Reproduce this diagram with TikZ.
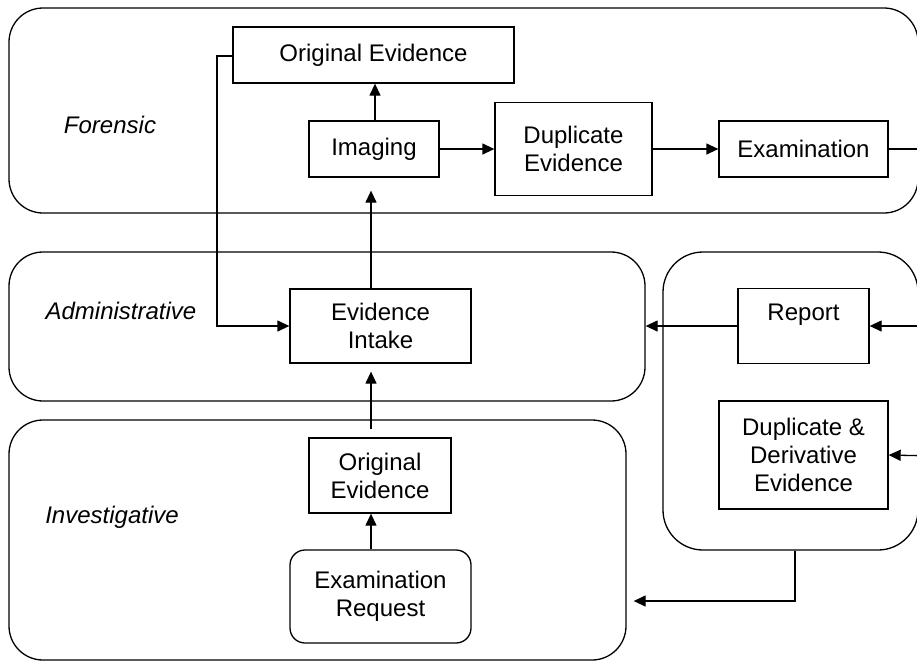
\documentclass[tikz,border=0pt]{standalone}
\usepackage{fontspec}
\setmainfont{Liberation Sans}
\usetikzlibrary{arrows.meta}
\begin{document}
\begin{tikzpicture}[x=1pt,y=-1pt,
  every node/.style={font=\fontsize{24}{28}\selectfont, align=center, inner sep=0pt},
  lane/.style={draw, line width=1.3pt, rounded corners=34pt},
  box/.style={draw, line width=1.3pt},
  lanelabel/.style={font=\fontsize{24}{28}\selectfont\itshape},
  conn/.style={line width=1.3pt},
  arr/.style={line width=1.3pt, -{Triangle[length=12pt,width=11pt]}}]
\useasboundingbox (0,0) rectangle (917,662);
\clip (0,0) rectangle (917,662);
% lanes
\node[lane, minimum width=909pt, minimum height=205pt] (forensic) at (463.5,110.5) {};
\node[lane, minimum width=636pt, minimum height=149pt] (admin) at (327,326.5) {};
\node[lane, minimum width=617pt, minimum height=240pt] (invest) at (317.5,540) {};
\node[lane, rounded corners=40pt, minimum width=255pt, minimum height=298pt] (rightc) at (790.5,401) {};
\node[lanelabel] (lf) at (110,125) {Forensic};
\node[lanelabel] (la) at (121,311) {Administrative};
\node[lanelabel] (li) at (112,517) {Investigative};
% boxes
\node[box, minimum width=281pt, minimum height=56pt] (origF) at (373.5,55) {Original Evidence};
\node[box, minimum width=130pt, minimum height=56pt] (imaging) at (374,149) {Imaging};
\node[box, minimum width=157pt, minimum height=93pt] (dupF) at (573.5,149) {Duplicate\\Evidence};
\node[box, minimum width=169pt, minimum height=56pt] (exam) at (803.5,149) {Examination};
\node[box, minimum width=181pt, minimum height=74pt] (intake) at (380.5,326) {Evidence\\Intake};
\node[box, minimum width=131pt, minimum height=75pt, text height=17pt, text depth=28pt] (report) at (803.5,326) {Report};
\node[box, minimum width=169pt, minimum height=108pt] (dupD) at (803.5,455) {Duplicate \&\\Derivative\\Evidence};
\node[box, minimum width=142pt, minimum height=75pt] (origI) at (380,475.5) {Original\\Evidence};
\node[box, rounded corners=15pt, minimum width=181pt, minimum height=93pt] (req) at (380.5,596.5) {Examination\\Request};
% helper coordinates
\coordinate (ex) at (935,149);
\coordinate (exd) at (935,456);
\coordinate (oleft) at (217,56);
\coordinate (ibot) at (795,601);
% connectors
\draw[arr] (imaging.north -| 375,0) -- (origF.south -| 375,0);
\draw[arr] (imaging.east) -- (dupF.west);
\draw[arr] (dupF.east) -- (exam.west);
\draw[conn] (exam.east) -- (ex);
\draw[arr] (ex) |- (report.east);
\draw[arr] (exd) -- (dupD.east);
\draw[arr] (report.west) -- (admin.east |- report.west);
\draw[arr] (origF.west |- oleft) -- (oleft) |- (intake.west);
\draw[arr, shorten >=13pt] (intake.north -| 371,0) -- (imaging.south -| 371,0);
\draw[arr, shorten <=8pt, shorten >=8pt] (origI.north -| 371,0) -- (intake.south -| 371,0);
\draw[arr] (req.north -| 371,0) -- (origI.south -| 371,0);
\draw[arr, shorten >=7pt] (rightc.south -| ibot) -- (ibot) -- (invest.east |- ibot);
\end{tikzpicture}
\end{document}
